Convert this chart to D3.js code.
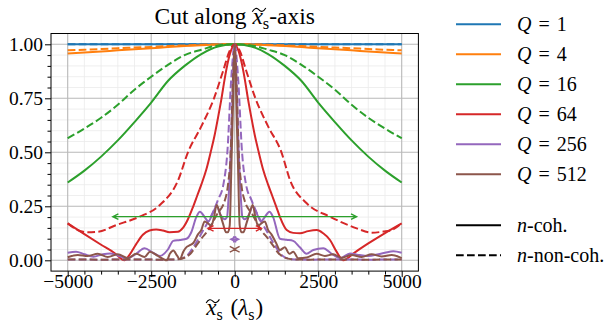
<!DOCTYPE html>
<html>
<head>
<meta charset="utf-8">
<script src="https://cdn.jsdelivr.net/npm/d3@7"></script>
<style>
  body { margin: 0; background: #fff; }
  svg { display: block; font-family: "Liberation Serif", "DejaVu Serif", serif; }
</style>
</head>
<body>
<svg id="chart" width="611" height="326"></svg>
<script>
// values
const xGrid = [-5000,-4500,-4000,-3500,-3000,-2500,-2000,-1500,-1000,-500,0,500,1000,1500,2000,2500,3000,3500,4000,4500,5000]

const q1Coh = [1,1,1,1,1,1,1,1,1,1,1,1,1,1,1,1,1,1,1,1,1]
const q1Non = [1,1,1,1,1,1,1,1,1,1,1,1,1,1,1,1,1,1,1,1,1]
const q4Coh = [0.957,0.962,0.967,0.972,0.977,0.982,0.987,0.992,0.996,0.999,1,0.999,0.996,0.992,0.987,0.982,0.977,0.972,0.967,0.962,0.957]
const q4Non = [0.972,0.975,0.978,0.982,0.985,0.988,0.992,0.995,0.998,0.9995,1,0.9995,0.998,0.995,0.992,0.988,0.985,0.982,0.978,0.975,0.972]
const q16Coh = [0.36,0.415,0.48,0.555,0.64,0.73,0.83,0.9,0.955,0.99,1,0.99,0.955,0.9,0.83,0.73,0.64,0.555,0.48,0.415,0.36]
const q16Non = [0.565,0.61,0.66,0.72,0.79,0.85,0.905,0.95,0.975,0.995,1,0.995,0.975,0.95,0.905,0.85,0.79,0.72,0.66,0.61,0.565]

const q64Coh = [[-5000,0.171],[-4500,0.121],[-4000,0.072],[-3600,0.034],[-3300,0.0],[-3150,0.025],[-2950,0.075],[-2750,0.118],[-2550,0.138],[-2350,0.143],[-2150,0.138],[-1950,0.13],[-1700,0.132],[-1550,0.15],[-1400,0.19],[-1240,0.25],[-1120,0.3],[-1000,0.35],[-850,0.42],[-720,0.5],[-600,0.58],[-500,0.66],[-400,0.745],[-300,0.84],[-200,0.92],[-100,0.975],[0,1],
  [100,0.975],[200,0.92],[300,0.84],[400,0.745],[500,0.66],[600,0.58],[720,0.5],[850,0.42],[1000,0.35],[1120,0.3],[1240,0.25],[1356,0.2],[1557,0.14],[1750,0.127],[1955,0.125],[2200,0.135],[2455,0.14],[2650,0.125],[2853,0.094],[3050,0.04],[3250,0.0],[3600,0.037],[4000,0.078],[4500,0.126],[5000,0.171]]
const q64Non = [[-5000,0.171],[-4700,0.14],[-4400,0.13],[-4100,0.132],[-3550,0.163],[-2850,0.202],[-2240,0.256],[-1690,0.372],[-1400,0.5],[-1000,0.62],[-620,0.75],[-340,0.88],[-150,0.97],[0,1],
  [150,0.97],[340,0.88],[620,0.75],[1000,0.62],[1400,0.5],[1655,0.372],[2156,0.264],[2853,0.202],[3653,0.148],[4100,0.128],[4450,0.133],[4700,0.14],[5000,0.171]]

const q256Coh = [[-5000,0.035],[-4750,0.04],[-4500,0.028],[-4230,0.017],[-3950,0.028],[-3730,0.032],[-3500,0.022],[-3230,0.01],[-2950,0.03],[-2700,0.056],[-2450,0.035],[-2240,0.02],[-2000,0.05],[-1840,0.09],[-1640,0.094],[-1440,0.1],[-1300,0.13],[-1150,0.2],[-1040,0.225],[-900,0.2],[-790,0.18],[-650,0.22],[-540,0.25],[-420,0.21],[-300,0.19],[-230,0.2],[-180,0.3],[-120,0.5],[-60,0.78],[0,1],
  [60,0.78],[120,0.5],[180,0.3],[230,0.2],[300,0.19],[420,0.21],[540,0.25],[650,0.22],[790,0.18],[900,0.2],[1040,0.225],[1150,0.2],[1356,0.1],[1550,0.095],[1750,0.09],[1950,0.06],[2150,0.03],[2353,0.048],[2653,0.056],[2900,0.03],[3153,0.01],[3452,0.032],[3700,0.025],[4000,0.02],[4300,0.028],[4500,0.035],[4750,0.042],[5000,0.035]]
const q256Non = [[-5000,0.004],[-4000,0.003],[-3000,0.004],[-2200,0.003],[-1700,0.005],[-1440,0.02],[-1240,0.06],[-940,0.14],[-690,0.21],[-500,0.28],[-340,0.35],[-220,0.5],[-100,0.85],[0,1],
  [100,0.85],[220,0.5],[340,0.35],[500,0.28],[690,0.21],[940,0.14],[1240,0.06],[1440,0.02],[1700,0.005],[2200,0.003],[3000,0.004],[4000,0.003],[5000,0.004]]

const q512Coh = [[-5000,0.014],[-4700,0.025],[-4400,0.02],[-4100,0.03],[-3800,0.015],[-3500,0.028],[-3200,0.01],[-2950,0.03],[-2700,0.015],[-2536,0.04],[-2300,0.02],[-2036,0.0],[-1940,0.03],[-1838,0.045],[-1720,0.02],[-1640,0.005],[-1540,0.04],[-1450,0.06],[-1340,0.07],[-1240,0.08],[-1100,0.12],[-1000,0.14],[-900,0.18],[-790,0.17],[-700,0.16],[-620,0.2],[-540,0.256],[-450,0.22],[-350,0.17],[-260,0.13],[-200,0.13],[-150,0.16],[-100,0.43],[-50,0.72],[0,1],
  [50,0.72],[100,0.43],[150,0.16],[200,0.13],[260,0.13],[350,0.17],[450,0.22],[540,0.256],[620,0.2],[700,0.16],[790,0.17],[900,0.18],[1000,0.14],[1100,0.12],[1240,0.08],[1356,0.048],[1500,0.06],[1640,0.03],[1755,0.04],[1900,0.01],[2156,0.013],[2455,0.03],[2700,0.02],[2950,0.028],[3200,0.012],[3500,0.025],[3800,0.015],[4100,0.028],[4400,0.018],[4700,0.025],[5000,0.01]]
const q512Non = [[-5000,0.004],[-4000,0.003],[-3000,0.004],[-2200,0.003],[-1700,0.005],[-1437,0.017],[-1300,0.035],[-1140,0.07],[-1000,0.1],[-790,0.14],[-540,0.21],[-290,0.28],[-200,0.35],[-120,0.5],[-50,0.85],[0,1],
  [50,0.85],[120,0.5],[200,0.35],[290,0.28],[540,0.21],[790,0.14],[1000,0.1],[1140,0.07],[1300,0.035],[1437,0.017],[1700,0.005],[2200,0.003],[3000,0.004],[4000,0.003],[5000,0.004]]

const qLabels = ['1', '4', '16', '64', '256', '512']
const colors = ['#1f77b4', '#ff7f0e', '#2ca02c', '#d62728', '#9467bd', '#8c564b']

// double arrows: half width and level, for Q = 16, 64, 256, 512
const arrowQ = [2, 3, 4, 5]
const arrowHalf = [3650, 800, 120, 20]
const arrowLevel = [0.202, 0.148, 0.097, 0.051]

const xTicks = [-5000, -2500, 0, 2500, 5000]
const yTicks = [0, 0.25, 0.5, 0.75, 1]

const zip = (xs, vs) => xs.map((d, i) => [d, vs[i]])
const series = [
  [zip(xGrid, q1Coh), zip(xGrid, q1Non)],
  [zip(xGrid, q4Coh), zip(xGrid, q4Non)],
  [zip(xGrid, q16Coh), zip(xGrid, q16Non)],
  [q64Coh, q64Non],
  [q256Coh, q256Non],
  [q512Coh, q512Non]
]

const svg = d3.select('#chart')
const x = d3.scaleLinear().domain([-5500, 5500]).range([51, 418.4])
const y = d3.scaleLinear().domain([-0.05, 1.05]).range([271.1, 33.5])
const [x0, x1] = x.range()
const [y0, y1] = y.range()

svg.append('clipPath').attr('id', 'plot')
  .append('rect').attr('x', x0).attr('y', y1).attr('width', x1 - x0).attr('height', y0 - y1)

// grid
const xMinor = d3.range(-5000, 5001, 500).filter(v => v % 2500 !== 0)
const yMinor = d3.range(0, 21).map(i => i * 0.05).filter(v => Math.abs(v * 4 - Math.round(v * 4)) > 1e-6)
const grid = svg.append('g')
grid.selectAll('line.xmin').data(xMinor).enter().append('line')
  .attr('x1', d => x(d)).attr('x2', d => x(d)).attr('y1', y0).attr('y2', y1)
  .attr('stroke', '#ebebeb').attr('stroke-width', 0.8)
grid.selectAll('line.ymin').data(yMinor).enter().append('line')
  .attr('y1', d => y(d)).attr('y2', d => y(d)).attr('x1', x0).attr('x2', x1)
  .attr('stroke', '#ebebeb').attr('stroke-width', 0.8)
grid.selectAll('line.xmaj').data(xTicks).enter().append('line')
  .attr('x1', d => x(d)).attr('x2', d => x(d)).attr('y1', y0).attr('y2', y1)
  .attr('stroke', '#b8b8b8').attr('stroke-width', 1.1)
grid.selectAll('line.ymaj').data(yTicks).enter().append('line')
  .attr('y1', d => y(d)).attr('y2', d => y(d)).attr('x1', x0).attr('x2', x1)
  .attr('stroke', '#b8b8b8').attr('stroke-width', 1.1)

// curves
const line = d3.line().x(d => x(d[0])).y(d => y(d[1])).curve(d3.curveMonotoneX)
const plot = svg.append('g').attr('clip-path', 'url(#plot)')
series.forEach((s, i) => {
  plot.append('path').attr('d', line(s[0]))
    .attr('fill', 'none').attr('stroke', colors[i]).attr('stroke-width', 2)
    .attr('stroke-linejoin', 'round')
  plot.append('path').attr('d', line(s[1]))
    .attr('fill', 'none').attr('stroke', colors[i]).attr('stroke-width', 2)
    .attr('stroke-dasharray', '7.7,3.3')
})

// arrows with open heads at both ends
const hl = 5.6, hw = 2.8
arrowQ.forEach((q, i) => {
  const a = x(-arrowHalf[i]), b = x(arrowHalf[i]), yy = y(arrowLevel[i])
  plot.append('path')
    .attr('d', `M${a},${yy}L${b},${yy}M${a + hl},${yy - hw}L${a},${yy}L${a + hl},${yy + hw}M${b - hl},${yy - hw}L${b},${yy}L${b - hl},${yy + hw}`)
    .attr('fill', 'none').attr('stroke', colors[q]).attr('stroke-width', 1.4)
})

// spines
svg.append('rect').attr('x', x0).attr('y', y1).attr('width', x1 - x0).attr('height', y0 - y1)
  .attr('fill', 'none').attr('stroke', '#000').attr('stroke-width', 1)

// axes
const fmtX = d3.format('d')
const xAxis = svg.append('g').attr('transform', `translate(0,${y0})`)
  .call(d3.axisBottom(x).tickValues(xTicks).tickSize(6).tickFormat(fmtX))
const xAxisMinor = svg.append('g').attr('transform', `translate(0,${y0})`)
  .call(d3.axisBottom(x).tickValues(xMinor).tickSize(3.5).tickFormat(''))
const yAxis = svg.append('g').attr('transform', `translate(${x0},0)`)
  .call(d3.axisLeft(y).tickValues(yTicks).tickSize(6).tickFormat(d3.format('.2f')))
const yAxisMinor = svg.append('g').attr('transform', `translate(${x0},0)`)
  .call(d3.axisLeft(y).tickValues(yMinor).tickSize(3.5).tickFormat(''))
;[xAxis, xAxisMinor, yAxis, yAxisMinor].forEach(g => {
  g.select('.domain').remove()
  g.selectAll('line').attr('stroke', '#000').attr('stroke-width', 1)
  g.selectAll('text').attr('font-family', '"Liberation Serif", serif').attr('font-size', 19.5).attr('fill', '#000')
})
xAxis.selectAll('text').attr('y', 3).attr('dy', '0.71em')
yAxis.selectAll('text').attr('x', -8).attr('dy', '0.34em')

// text with italics, subscripts and tildes
function rich (g, px, py, pieces, size, anchor) {
  const t = g.append('text').attr('x', px).attr('y', py)
    .attr('font-size', size).attr('text-anchor', anchor || 'start').attr('fill', '#000')
  let shift = 0
  pieces.forEach(p => {
    const s = t.append('tspan').text(p.t)
    if (p.it) s.attr('font-style', 'italic')
    if (p.dx) s.attr('dx', p.dx)
    const target = p.sub ? size * 0.22 : 0
    if (target !== shift) { s.attr('dy', target - shift); shift = target }
    if (p.sub) s.attr('font-size', size * 0.7)
  })
  let idx = 0
  pieces.forEach(p => {
    if (p.tilde) {
      const n = t.node()
      const s = n.getStartPositionOfChar(idx), e = n.getEndPositionOfChar(idx)
      const w = (e.x - s.x) * 1.3, cx = (s.x + e.x) / 2 + size * 0.06
      const ty = s.y - size * 0.6, h = size * 0.08
      g.append('path')
        .attr('d', `M${cx - w / 2},${ty + h}Q${cx - w / 4},${ty - 2 * h} ${cx},${ty}T${cx + w / 2},${ty - h}`)
        .attr('fill', 'none').attr('stroke', '#000').attr('stroke-width', 1.1)
    }
    idx += p.t.length
  })
  return t
}

rich(svg, 234.7, 24, [{ t: 'Cut along ' }, { t: 'x', it: true, tilde: true }, { t: 's', sub: true }, { t: '-axis' }], 23.5, 'middle')
rich(svg, 234.7, 315, [{ t: 'x', it: true, tilde: true }, { t: 's', sub: true }, { t: ' (', dx: 2 }, { t: 'λ', it: true }, { t: 's', sub: true }, { t: ')', dx: 1 }], 23, 'middle')

// legend
const legend = svg.append('g')
qLabels.forEach((q, i) => {
  const ly = 24.3 + 30 * i
  legend.append('line').attr('x1', 456).attr('x2', 501).attr('y1', ly).attr('y2', ly)
    .attr('stroke', colors[i]).attr('stroke-width', 2)
  rich(legend, 517, ly + 6.5, [{ t: 'Q', it: true }, { t: ' = ', dx: 2 }, { t: q, dx: 2 }], 20)
})
const styles = [['coh.', null], ['non-coh.', '7.7,3.3']]
styles.forEach((s, i) => {
  const ly = 225.3 + 30 * i
  legend.append('line').attr('x1', 456).attr('x2', 501).attr('y1', ly).attr('y2', ly)
    .attr('stroke', '#000').attr('stroke-width', 2).attr('stroke-dasharray', s[1])
  rich(legend, 517, ly + 6.5, [{ t: 'n', it: true }, { t: '-' + s[0] }], 20)
})
</script>
</body>
</html>
